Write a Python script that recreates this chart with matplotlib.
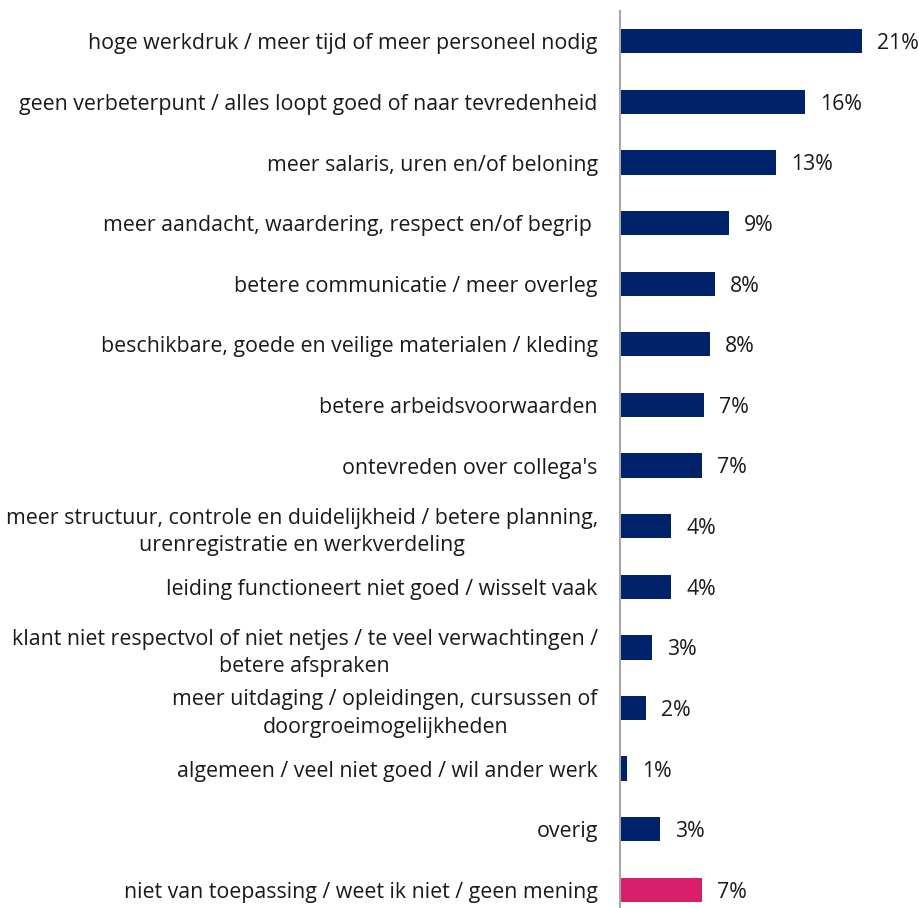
import matplotlib.pyplot as plt

# Answers and shares (%)
labels = [
    "hoge werkdruk / meer tijd of meer personeel nodig",
    "geen verbeterpunt / alles loopt goed of naar tevredenheid",
    "meer salaris, uren en/of beloning",
    "meer aandacht, waardering, respect en/of begrip ",
    "betere communicatie / meer overleg",
    "beschikbare, goede en veilige materialen / kleding",
    "betere arbeidsvoorwaarden",
    "ontevreden over collega's",
    "meer structuur, controle en duidelijkheid / betere planning,\nurenregistratie en werkverdeling",
    "leiding functioneert niet goed / wisselt vaak",
    "klant niet respectvol of niet netjes / te veel verwachtingen /\nbetere afspraken",
    "meer uitdaging / opleidingen, cursussen of\ndoorgroeimogelijkheden",
    "algemeen / veel niet goed / wil ander werk",
    "overig",
    "niet van toepassing / weet ik niet / geen mening",
]
values = [20.7, 15.8, 13.3, 9.3, 8.1, 7.7, 7.2, 7.0, 4.4, 4.4, 2.7, 2.2, 0.6, 3.4, 7.0]
value_labels = ["21%", "16%", "13%", "9%", "8%", "8%", "7%", "7%",
                "4%", "4%", "3%", "2%", "1%", "3%", "7%"]

navy = "#00226B"
pink = "#D81E6A"
colors = [navy] * 14 + [pink]

plt.rcParams['font.family'] = ['Open Sans', 'DejaVu Sans']

W, H = 920, 908
fig = plt.figure(figsize=(W / 100, H / 100), dpi=100)
ax = fig.add_axes([620 / W, 0, 300 / W, 897 / H])

ypos = list(range(len(labels)))
ax.barh(ypos, values, height=0.4, color=colors)

for y, v, t in zip(ypos, values, value_labels):
    ax.text(v + 1.3, y + 0.04, t, va="center", ha="left", fontsize=15.3, color="#1a1a1a")

ax.set_xlim(0, 300 / 11.7)
ax.set_ylim(14.3, -0.5)
ax.set_yticks(ypos)
ax.set_yticklabels(labels, fontsize=15.4, color="#1a1a1a")
for lbl in ax.get_yticklabels():
    lbl.set_multialignment("center")
    lbl.set_linespacing(1.4)
ax.tick_params(axis="y", length=0, pad=16)
ax.set_xticks([])

for side in ["top", "right", "bottom"]:
    ax.spines[side].set_visible(False)
ax.spines["left"].set_color("#a6a6a6")
ax.spines["left"].set_linewidth(1.5)

fig.savefig("out.png", dpi=100)
